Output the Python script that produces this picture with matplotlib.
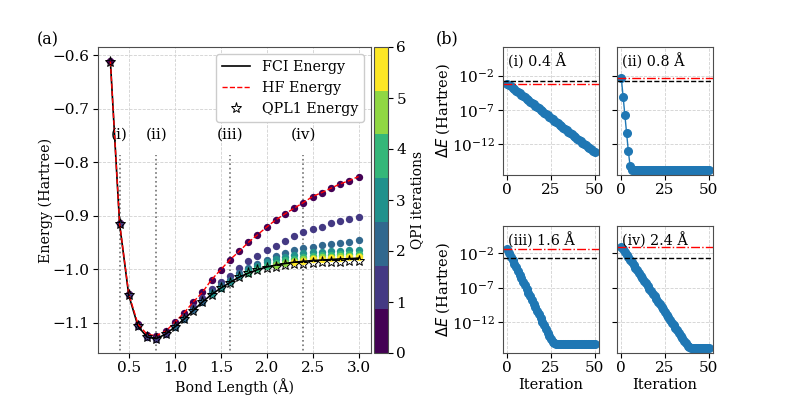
import numpy as np
import matplotlib
matplotlib.use("Agg")
import matplotlib.pyplot as plt
from matplotlib.lines import Line2D
from matplotlib.colors import Normalize

plt.rcParams['font.family'] = ['DejaVu Serif']
plt.rcParams['font.size'] = 10.5
plt.rcParams['xtick.labelsize'] = 11
plt.rcParams['ytick.labelsize'] = 11
plt.rcParams['xtick.major.pad'] = 2.5
plt.rcParams['ytick.major.pad'] = 2.5

nan = np.nan
bond = [0.3, 0.4, 0.5, 0.6, 0.7, 0.8, 0.9, 1.0, 1.1, 1.2, 1.3, 1.4, 1.5, 1.6,
        1.7, 1.8, 1.9, 2.0, 2.1, 2.2, 2.3, 2.4, 2.5, 2.6, 2.7, 2.8, 2.9, 3.0]

fci = [-0.6125, -0.9155, -1.0485, -1.106, -1.1265, -1.129, -1.121, -1.1075, -1.093, -1.077,
       -1.061, -1.047, -1.035, -1.0245, -1.0145, -1.007, -1.0005, -0.9955, -0.992, -0.989,
       -0.9865, -0.985, -0.9835, -0.9825, -0.9815, -0.9805, -0.98, -0.979]
hf = [-0.612, -0.914, -1.046, -1.102, -1.1215, -1.1235, -1.1155, -1.0988, -1.0813, -1.061,
      -1.043, -1.0192, -1.0006, -0.982, -0.9665, -0.9497, -0.9354, -0.921, -0.9074, -0.8963,
      -0.8857, -0.8752, -0.864, -0.8566, -0.8484, -0.8404, -0.8342, -0.8267]
qpl1 = [-0.6125, -0.9155, -1.0485, -1.106, -1.1265, -1.129, -1.121, -1.1075, -1.093, -1.077,
        -1.061, -1.047, -1.035, -1.0245, -1.0145, -1.007, -1.0005, -0.998, -0.995, -0.992,
        -0.990, -0.989, -0.988, -0.987, -0.986, -0.986, -0.985, -0.985]

# QPI iteration energies (nan = iteration not performed)
qpi_iter0 = hf
qpi_iter1 = [nan, -0.9155, -1.0485, -1.106, -1.1265, -1.129, -1.121, -1.105, -1.088, -1.071,
             -1.054, -1.037, -1.024, -1.012, -0.998, -0.985, -0.9745, -0.964, -0.956, -0.9466,
             -0.9385, -0.931, -0.9248, -0.920, -0.9136, -0.9099, -0.9062, -0.9015]
qpi_iter2 = [nan, nan, nan, nan, nan, nan, nan, -1.107, -1.092, -1.076,
             -1.060, -1.043, -1.030, -1.019, -1.007, -0.997, -0.989, -0.982, -0.975, -0.969,
             -0.9645, -0.961, -0.958, -0.955, -0.952, -0.950, -0.948, -0.9455]
qpi_iter3 = [nan, nan, nan, nan, nan, nan, nan, nan, nan, nan,
             nan, -1.046, -1.034, -1.0235, -1.012, -1.001, -0.993, -0.986, -0.980, -0.976,
             -0.973, -0.970, -0.968, -0.967, -0.966, -0.965, -0.9645, -0.964]
qpi_iter4 = [nan, nan, nan, nan, nan, nan, nan, nan, nan, nan,
             nan, nan, nan, nan, nan, -1.006, -0.999, -0.9935, -0.988, -0.983,
             -0.980, -0.977, -0.975, -0.974, -0.973, -0.972, -0.9715, -0.971]
qpi_iter5 = [nan, nan, nan, nan, nan, nan, nan, nan, nan, nan,
             nan, nan, nan, nan, nan, nan, nan, nan, -0.991, -0.988,
             -0.984, -0.981, -0.979, -0.977, -0.976, -0.9755, -0.975, -0.975]
qpi_iter6 = [nan, nan, nan, nan, nan, nan, nan, nan, nan, nan,
             nan, nan, nan, nan, nan, nan, nan, nan, nan, nan,
             -0.9855, -0.9835, -0.9815, -0.980, -0.979, -0.978, -0.9775, -0.977]
qpi_iters = [qpi_iter0, qpi_iter1, qpi_iter2, qpi_iter3, qpi_iter4, qpi_iter5, qpi_iter6]

marked_bonds = [0.4, 0.8, 1.6, 2.4]
marked_labels = ['(i)', '(ii)', '(iii)', '(iv)']

# panel (b): log10 of energy error vs iteration
iterations = list(range(51))
log_dE_i = [-3.17, -3.37, -3.57, -3.77, -3.97, -4.17, -4.37, -4.57, -4.77, -4.97,
            -5.17, -5.37, -5.57, -5.77, -5.97, -6.17, -6.37, -6.57, -6.77, -6.97,
            -7.17, -7.37, -7.57, -7.77, -7.97, -8.17, -8.37, -8.57, -8.77, -8.97,
            -9.17, -9.37, -9.57, -9.77, -9.97, -10.17, -10.37, -10.57, -10.77, -10.97,
            -11.17, -11.37, -11.57, -11.77, -11.97, -12.17, -12.37, -12.57, -12.77, -12.97,
            -13.17]
log_dE_ii = [-2.38, -5.06, -7.7, -10.4, -13.0, -15.2, -15.75, -15.75, -15.75, -15.75,
             -15.75, -15.75, -15.75, -15.75, -15.75, -15.75, -15.75, -15.75, -15.75, -15.75,
             -15.75, -15.75, -15.75, -15.75, -15.75, -15.75, -15.75, -15.75, -15.75, -15.75,
             -15.75, -15.75, -15.75, -15.75, -15.75, -15.75, -15.75, -15.75, -15.75, -15.75,
             -15.75, -15.75, -15.75, -15.75, -15.75, -15.75, -15.75, -15.75, -15.75, -15.75,
             -15.75]
log_dE_iii = [-1.50, -2.02, -2.54, -3.06, -3.58, -4.10, -4.62, -5.14, -5.66, -6.18,
              -6.70, -7.22, -7.74, -8.26, -8.78, -9.30, -9.82, -10.34, -10.86, -11.38,
              -11.90, -12.42, -12.94, -13.46, -13.98, -14.45, -14.80, -14.98, -15.05, -15.07,
              -15.07, -15.07, -15.07, -15.07, -15.07, -15.07, -15.07, -15.07, -15.07, -15.07,
              -15.07, -15.07, -15.07, -15.07, -15.07, -15.07, -15.07, -15.07, -15.07, -15.07,
              -15.07]
log_dE_iv = [-1.14, -1.52, -1.89, -2.27, -2.64, -3.02, -3.39, -3.77, -4.14, -4.52,
             -4.89, -5.27, -5.64, -6.02, -6.39, -6.77, -7.14, -7.52, -7.89, -8.27,
             -8.64, -9.02, -9.39, -9.77, -10.14, -10.52, -10.89, -11.27, -11.64, -12.02,
             -12.39, -12.77, -13.14, -13.52, -13.89, -14.27, -14.64, -15.0, -15.35, -15.55,
             -15.65, -15.65, -15.65, -15.65, -15.65, -15.65, -15.65, -15.65, -15.65, -15.65,
             -15.65]
panel_titles = ['(i) 0.4 Å', '(ii) 0.8 Å', '(iii) 1.6 Å', '(iv) 2.4 Å']
hf_error = [6.8e-4, 4.2e-3, 3.1e-2, 7.2e-2]
chem_acc = 1.6e-3

fig = plt.figure(figsize=(7.93, 3.97), dpi=100)

# ---------- panel (a) ----------
ax = fig.add_axes([98/793, 44/397, 273/793, 306/397])
cmap = plt.get_cmap('viridis', 7)
norm = Normalize(vmin=0, vmax=6)
for k, vals in enumerate(qpi_iters):
    ax.scatter(bond, vals, s=28, color=cmap(norm(k)), zorder=2, linewidths=0)
ax.plot(bond, fci, color='k', lw=1.2, zorder=3, label='FCI Energy')
ax.plot(bond, hf, color='red', ls='--', lw=1.0, zorder=3, label='HF Energy')
ax.plot(bond, qpl1, ls='', marker='*', ms=8, mfc='none', mec='k', mew=0.7, zorder=4)
ax.vlines(marked_bonds, -1.2, -0.786, colors='0.45', linestyles=':', lw=1.2, zorder=1)
for b, lab in zip(marked_bonds, marked_labels):
    ax.text(b, -0.749, lab, ha='center', va='center', fontsize=11)
ax.set_xlim(0.165, 3.135)
ax.set_ylim(-1.156, -0.585)
ax.set_xticks([0.5, 1.0, 1.5, 2.0, 2.5, 3.0])
ax.set_yticks([-1.1, -1.0, -0.9, -0.8, -0.7, -0.6])
ax.grid(True, ls='--', color='0.82', lw=0.6)
ax.set_axisbelow(True)
ax.set_xlabel('Bond Length (Å)', fontsize=10.3, labelpad=2)
ax.set_ylabel('Energy (Hartree)', fontsize=10.3, labelpad=0)
handles = [Line2D([], [], color='k', lw=1.2),
           Line2D([], [], color='red', ls='--', lw=1.0),
           Line2D([], [], ls='', marker='*', ms=8, mfc='white', mec='k', mew=0.7)]
ax.legend(handles, ['FCI Energy', 'HF Energy', 'QPL1 Energy'], loc='upper right',
          fontsize=10.3, framealpha=1.0, edgecolor='0.8')
for s in ax.spines.values():
    s.set_edgecolor('0.3')

cax = fig.add_axes([374/793, 44/397, 14/793, 306/397])
sm = matplotlib.cm.ScalarMappable(norm=norm, cmap=cmap)
cb = fig.colorbar(sm, cax=cax, ticks=[0, 1, 2, 3, 4, 5, 6])
cb.set_label('QPI iterations', fontsize=10, labelpad=3)
cb.outline.set_edgecolor('0.3')

fig.text(37/793, 1 - 40/397, '(a)', fontsize=11.5, va='center', ha='left')
fig.text(436/793, 1 - 39/397, '(b)', fontsize=11.5, va='center', ha='left')

# ---------- panel (b) ----------
logs = [log_dE_i, log_dE_ii, log_dE_iii, log_dE_iv]
pos = [(503, 47, 175), (617, 47, 175), (503, 226, 353), (617, 226, 353)]
ylims = [(10**-16.5, 10**2.2), (10**-16.5, 10**2.2), (10**-16.4, 10**1.85), (10**-16.4, 10**1.85)]
for i in range(4):
    x0, yt, yb = pos[i]
    a = fig.add_axes([x0/793, (397 - yb)/397, 96/793, (yb - yt)/397])
    dE = [10**v for v in logs[i]]
    a.plot(iterations, dE, color='#1f77b4', marker='o', ms=5.5, lw=1.0)
    a.axhline(chem_acc, color='k', ls='--', lw=1.0)
    a.axhline(hf_error[i], color='red', ls='-.', lw=1.0)
    a.set_yscale('log')
    a.set_ylim(*ylims[i])
    a.set_xlim(-2.5, 52.5)
    a.set_yticks([1e-12, 1e-7, 1e-2])
    a.yaxis.set_minor_locator(matplotlib.ticker.NullLocator())
    a.set_xticks([0, 25, 50])
    a.grid(True, ls='--', color='0.82', lw=0.6)
    a.set_axisbelow(True)
    a.text(0.05, 0.885, panel_titles[i], transform=a.transAxes, ha='left', va='center',
           fontsize=10.3)
    if i % 2 == 1:
        a.set_yticklabels([])
    else:
        a.set_ylabel(r'$\Delta E$ (Hartree)', fontsize=10.5, labelpad=0)
    if i >= 2:
        a.set_xlabel('Iteration', fontsize=10.5, labelpad=2)
    for s in a.spines.values():
        s.set_edgecolor('0.3')

fig.savefig('out.png', dpi=100)
